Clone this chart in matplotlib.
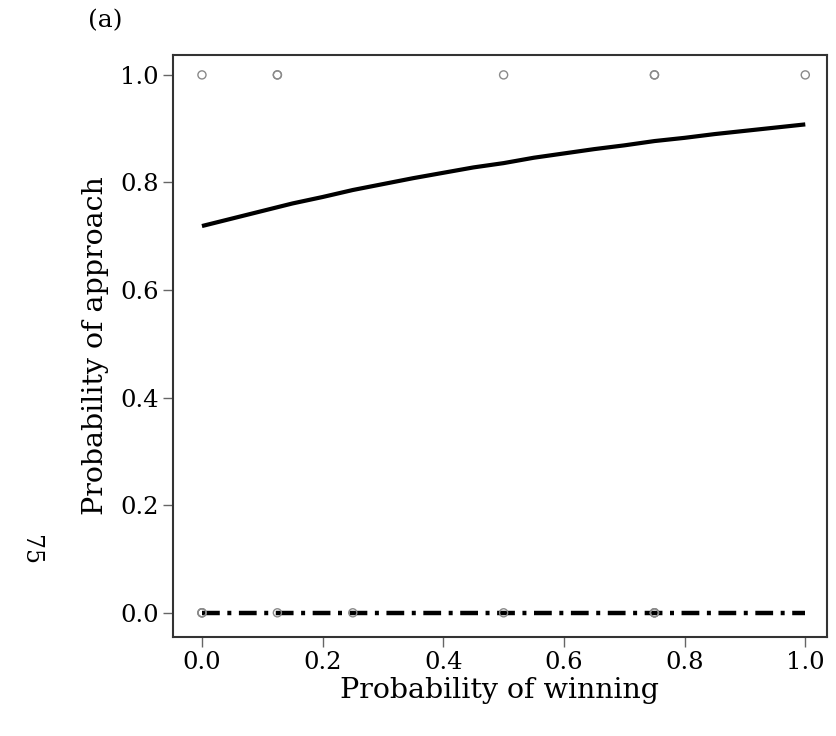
import matplotlib
matplotlib.use('Agg')
import matplotlib.pyplot as plt

# observed approach outcomes (1 = approached, 0 = did not)
win_prob_yes = [0.0, 0.125, 0.125, 0.5, 0.75, 0.75, 1.0]
approach_yes = [1, 1, 1, 1, 1, 1, 1]
win_prob_no = [0.0, 0.0, 0.0, 0.125, 0.25, 0.5, 0.75, 0.75, 0.75]
approach_no = [0, 0, 0, 0, 0, 0, 0, 0, 0]

# fitted probability of approach
fit_x = [0.0, 0.05, 0.1, 0.15, 0.2, 0.25, 0.3, 0.35, 0.4, 0.45, 0.5,
         0.55, 0.6, 0.65, 0.7, 0.75, 0.8, 0.85, 0.9, 0.95, 1.0]
fit_hi = [0.719, 0.733, 0.747, 0.761, 0.773, 0.786, 0.797, 0.808, 0.818, 0.828, 0.836,
          0.846, 0.854, 0.862, 0.869, 0.877, 0.883, 0.890, 0.896, 0.902, 0.908]
fit_lo = [0.0] * len(fit_x)

plt.rcParams['font.family'] = ['DejaVu Serif']

fig = plt.figure(figsize=(8.36, 7.36), dpi=100)
ax = fig.add_axes([173 / 836, 1 - 637 / 736, (827 - 173) / 836, (637 - 55) / 736])

ax.plot(fit_x, fit_hi, color='black', lw=3, solid_capstyle='butt')
ax.plot(fit_x, fit_lo, color='black', lw=3.2, dashes=(4.0, 1.7, 0.9, 1.7))

ax.scatter(win_prob_yes, approach_yes, s=34, facecolors='none', edgecolors='#8a8a8a', lw=1.0, zorder=3)
ax.scatter(win_prob_no, approach_no, s=34, facecolors='none', edgecolors='#8a8a8a', lw=1.0, zorder=3)

ax.set_xlim(-0.048, 1.036)
ax.set_ylim(-0.045, 1.037)
ticks = [0.0, 0.2, 0.4, 0.6, 0.8, 1.0]
ax.set_xticks(ticks)
ax.set_yticks(ticks)
ax.set_xticklabels(['%.1f' % t for t in ticks])
ax.set_yticklabels(['%.1f' % t for t in ticks])
ax.tick_params(labelsize=17.5, length=7, width=1, color='#666666', pad=3)
for s in ax.spines.values():
    s.set_linewidth(1.5)
    s.set_color('#333333')

ax.set_xlabel('Probability of winning', fontsize=20.5, labelpad=2)
ax.set_ylabel('Probability of approach', fontsize=20.5, labelpad=8)

fig.text(88 / 836, 1 - 21 / 736, '(a)', fontsize=18, ha='left', va='center')
fig.text(30 / 836, 1 - 550 / 736, '75', fontsize=17, rotation=270, ha='center', va='center')

fig.savefig('out.png', dpi=100)
